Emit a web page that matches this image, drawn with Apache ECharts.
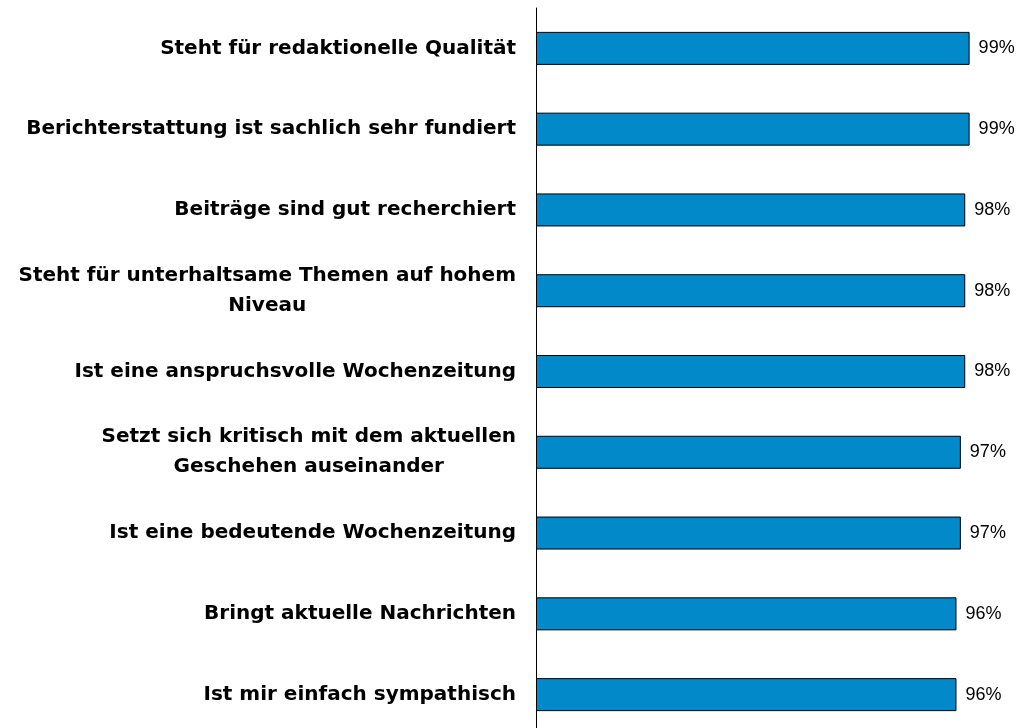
<!DOCTYPE html>
<html>
<head>
<meta charset="utf-8">
<script src="https://cdn.jsdelivr.net/npm/echarts@6/dist/echarts.min.js"></script>
<style>
  html, body { margin: 0; padding: 0; background: #fff; }
  #chart { width: 1030px; height: 728px; }
</style>
</head>
<body>
<div id="chart"></div>
<script>
  // Aussagen (oben nach unten) und Zustimmung in Prozent
  const categories = [
    'Steht für redaktionelle Qualität',
    'Berichterstattung ist sachlich sehr fundiert',
    'Beiträge sind gut recherchiert',
    'Steht für unterhaltsame Themen auf hohem\nNiveau',
    'Ist eine anspruchsvolle Wochenzeitung',
    'Setzt sich kritisch mit dem aktuellen\nGeschehen auseinander',
    'Ist eine bedeutende Wochenzeitung',
    'Bringt aktuelle Nachrichten',
    'Ist mir einfach sympathisch'
  ];
  const values = [99, 99, 98, 98, 98, 97, 97, 96, 96];

  const chart = echarts.init(document.getElementById('chart'));
  const labelFont = {
    fontFamily: 'DejaVu Sans',
    fontWeight: 'bold',
    fontSize: 20,
    color: '#000',
    lineHeight: 30,
    align: 'center'
  };

  const option = {
    animation: false,
    grid: { left: 536, top: 8, width: 438, height: 727, outerBoundsMode: 'none' },
    xAxis: {
      type: 'value',
      min: 0,
      max: 100,
      show: false
    },
    yAxis: {
      type: 'category',
      inverse: true,
      data: categories,
      axisLine: { show: true, lineStyle: { color: '#000', width: 1 } },
      axisTick: { show: false },
      axisLabel: {
        margin: 20,
        align: 'right',
        formatter: function (v) {
          return v.split('\n').map(function (s) { return '{c|' + s + '}'; }).join('\n');
        },
        rich: { c: labelFont }
      }
    },
    series: [{
      type: 'bar',
      data: values,
      barWidth: 33,
      itemStyle: { color: '#0189CA', borderColor: '#000', borderWidth: 1 },
      label: {
        show: true,
        position: 'right',
        distance: 9,
        formatter: '{c}%',
        fontFamily: 'Liberation Sans',
        fontSize: 18,
        color: '#000'
      }
    }]
  };
  chart.setOption(option);
</script>
</body>
</html>
